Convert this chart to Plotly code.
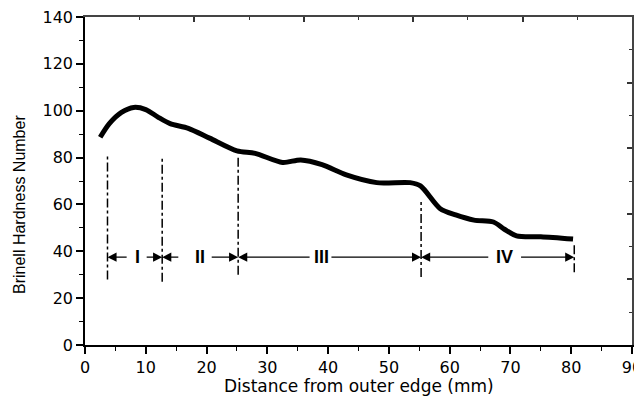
import plotly.graph_objects as go

# Hardness profile
dist_mm = [2.5, 4, 6, 8, 10, 12, 14, 17, 20.5, 25, 28, 32.5, 35.5, 39, 43, 48,
           53.5, 55.2, 58.4, 61, 64, 67.2, 69, 71, 75, 80.3]
hardness = [88.7, 94.5, 99.3, 101.4, 100.5, 97.3, 94.5, 92.5, 88.3, 82.9, 81.8,
            77.9, 79.0, 77.0, 72.6, 69.3, 69.3, 67.9, 58.3, 55.5, 53.3, 52.5,
            49.4, 46.6, 46.2, 45.2]

# Region annotation data
bounds = [3.7, 12.7, 25.2, 55.3, 80.5]
bound_top = [81, 80, 80, 61, 43]
bound_bot = [28, 27, 30, 29, 31]
region_labels = ["I", "II", "III", "IV"]
label_x = [8.6, 18.9, 38.9, 69.1]
left_tail = [7.1, 15.6, 37.2, 66.6]
right_tail = [9.9, 20.6, 40.3, 71.5]
arrow_y = 37.5

x_ticks = list(range(0, 91, 10))
y_ticks = list(range(0, 141, 20))

FONT = "DejaVu Sans"

fig = go.Figure()
fig.add_trace(go.Scatter(x=dist_mm, y=hardness, mode="lines",
                         line=dict(color="black", width=5, shape="spline", smoothing=0.8),
                         showlegend=False, hoverinfo="skip"))

for xb, t, b in zip(bounds, bound_top, bound_bot):
    fig.add_trace(go.Scatter(x=[xb, xb], y=[b, t], mode="lines",
                             line=dict(color="black", width=1.5, dash="dashdot"),
                             showlegend=False, hoverinfo="skip"))

# invisible trace for mirrored axes
fig.add_trace(go.Scatter(x=[None], y=[None], xaxis="x2", yaxis="y2",
                         showlegend=False, hoverinfo="skip"))

annotations = []
for i, lab in enumerate(region_labels):
    annotations.append(dict(x=label_x[i], y=arrow_y, xref="x", yref="y",
                            text="<b>" + lab + "</b>", showarrow=False,
                            font=dict(family="Liberation Sans", size=18, color="black"),
                            xanchor="center", yanchor="middle"))
    annotations.append(dict(x=bounds[i], y=arrow_y, ax=left_tail[i], ay=arrow_y,
                            xref="x", yref="y", axref="x", ayref="y", text="",
                            showarrow=True, arrowhead=2, arrowsize=1.3, arrowwidth=1.4,
                            arrowcolor="black", standoff=0, startstandoff=0))
    annotations.append(dict(x=bounds[i + 1], y=arrow_y, ax=right_tail[i], ay=arrow_y,
                            xref="x", yref="y", axref="x", ayref="y", text="",
                            showarrow=True, arrowhead=2, arrowsize=1.3, arrowwidth=1.4,
                            arrowcolor="black", standoff=0, startstandoff=0))

annotations.append(dict(x=0.5, y=0, xref="paper", yref="paper",
                        text="Distance from outer edge (mm)", showarrow=False,
                        xanchor="center", yanchor="middle", yshift=-41,
                        font=dict(family=FONT, size=17, color="black")))
annotations.append(dict(x=0, y=0.5, xref="paper", yref="paper",
                        text="Brinell Hardness Number", showarrow=False,
                        textangle=-90, xanchor="center", yanchor="middle",
                        xshift=-66, yshift=-24,
                        font=dict(family="Liberation Sans", size=16, color="black")))

fig.update_layout(
    width=642, height=398,
    margin=dict(l=77, r=18, t=9, b=61, autoexpand=False),
    paper_bgcolor="white", plot_bgcolor="white",
    showlegend=False,
    annotations=annotations,
    xaxis=dict(range=[0, 90], tickvals=x_ticks, ticks="outside", ticklen=7,
               tickwidth=1.5, tickcolor="black", showline=True, linecolor="black",
               linewidth=1.5, showgrid=False, zeroline=False, automargin=False,
               ticklabeloverflow="allow",
               tickfont=dict(family=FONT, size=16, color="black"),
               minor=dict(dtick=5, tick0=0, ticks="outside", ticklen=4,
                          tickcolor="black", tickwidth=1.2, showgrid=False)),
    yaxis=dict(range=[0, 140], tickvals=y_ticks, ticks="outside", ticklen=7,
               tickwidth=1.5, tickcolor="black", showline=True, linecolor="black",
               linewidth=1.5, showgrid=False, zeroline=False, automargin=False,
               ticklabeloverflow="allow",
               tickfont=dict(family=FONT, size=16, color="black"),
               minor=dict(dtick=10, tick0=0, ticks="outside", ticklen=4,
                          tickcolor="black", tickwidth=1.2, showgrid=False)),
    xaxis2=dict(range=[0, 90], overlaying="x", side="top", anchor="y",
                showticklabels=False, ticks="inside", dtick=18, tick0=0, ticklen=5,
                tickwidth=1.5, tickcolor="#333", showline=True, linecolor="#444",
                linewidth=1.5, showgrid=False, zeroline=False, automargin=False,
                minor=dict(dtick=9, tick0=0, ticks="inside", ticklen=3,
                           tickcolor="#333", tickwidth=1.2, showgrid=False)),
    yaxis2=dict(range=[0, 140], overlaying="y", side="right", anchor="x",
                showticklabels=False, ticks="inside", dtick=28, tick0=0, ticklen=5,
                tickwidth=1.5, tickcolor="#333", showline=True, linecolor="#444",
                linewidth=1.5, showgrid=False, zeroline=False, automargin=False,
                minor=dict(dtick=14, tick0=0, ticks="inside", ticklen=3,
                           tickcolor="#333", tickwidth=1.2, showgrid=False)),
)

fig.write_html("out.html")
